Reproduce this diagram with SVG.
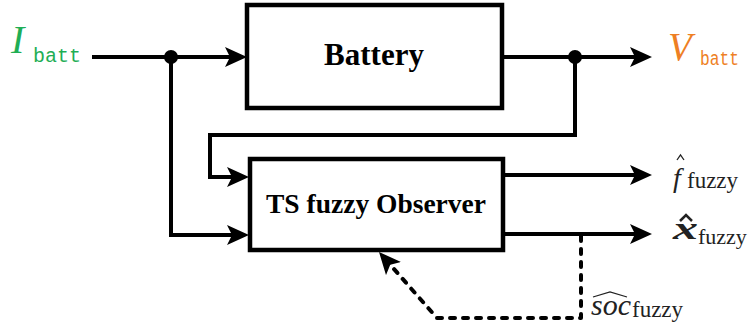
<svg xmlns="http://www.w3.org/2000/svg" width="748" height="331" viewBox="0 0 748 331">
<style>
.box{fill:#fff;stroke:#000;stroke-width:4.5;stroke-linejoin:miter}
.wire{fill:none;stroke:#000;stroke-width:4;stroke-linejoin:miter}
.dash{fill:none;stroke:#000;stroke-width:4;stroke-dasharray:5 8;stroke-linecap:round;stroke-linejoin:round}
.title{font-family:"Liberation Serif",serif;font-weight:bold;fill:#000;text-anchor:middle}
.sub{font-family:"Liberation Serif",serif;fill:#222}
.mono{font-family:"Liberation Mono",monospace;font-size:20px}
.hat{fill:none;stroke:#222;stroke-width:1.3;stroke-linejoin:miter}
</style>
<defs>
<marker id="arr" viewBox="0 -10 22 20" refX="12" refY="0" markerWidth="22" markerHeight="20" markerUnits="userSpaceOnUse" orient="auto">
<path d="M0,-10 L22,0 L0,10 L5,0 Z" fill="#000"/>
</marker>
</defs>
<g id="connectors">
<path class="wire" d="M92,57 H237" marker-end="url(#arr)"/>
<path class="wire" d="M171,57 V235 H239" marker-end="url(#arr)"/>
<path class="wire" d="M502,57 H642" marker-end="url(#arr)"/>
<path class="wire" d="M575,57 V135 H210 V177 H239" marker-end="url(#arr)"/>
<path class="wire" d="M503,175 H642" marker-end="url(#arr)"/>
<path class="wire" d="M503,234 H642" marker-end="url(#arr)"/>
<path class="dash" d="M581,236 V318 H437 L385.6,259.5" marker-end="url(#arr)"/>
<circle cx="171" cy="57" r="7" fill="#000"/>
<circle cx="575" cy="57" r="7" fill="#000"/>
</g>
<g id="battery">
<rect class="box" x="247" y="5" width="255" height="103"/>
<text class="title" x="374" y="65" font-size="31">Battery</text>
</g>
<g id="observer">
<rect class="box" x="250" y="159" width="253" height="91"/>
<text class="title" x="376" y="213" font-size="27.5">TS fuzzy Observer</text>
</g>
<g id="label-ibatt" fill="#1fae55">
<text x="11" y="53" font-family="Liberation Serif,serif" font-style="italic" font-size="40">I</text>
<text class="mono" x="33" y="62">batt</text>
</g>
<g id="label-vbatt" fill="#ee7f24">
<text x="668" y="60" font-family="Liberation Serif,serif" font-style="italic" font-size="39">V</text>
<text class="mono" x="700" y="65" font-size="18" textLength="39" lengthAdjust="spacingAndGlyphs">batt</text>
</g>
<g id="label-f">
<text class="sub" x="673" y="187" font-style="italic" font-size="28">f</text>
<path class="hat" d="M677,160 L680.5,155 L684,160"/>
<text class="sub" x="687" y="188" font-size="23">fuzzy</text>
</g>
<g id="label-x">
<text class="sub" x="673" y="239" font-style="italic" font-weight="bold" font-size="32" textLength="25" lengthAdjust="spacingAndGlyphs">x</text>
<path class="hat" style="stroke-width:2.5" d="M680,221 L686,215 L692,221"/>
<text class="sub" x="698" y="244" font-size="22">fuzzy</text>
</g>
<g id="label-soc">
<text class="sub" x="591" y="315" font-style="italic" font-size="30">soc</text>
<path class="hat" d="M593,297 L610,292 L627,297"/>
<text class="sub" x="632" y="317" font-size="23">fuzzy</text>
</g>
</svg>
